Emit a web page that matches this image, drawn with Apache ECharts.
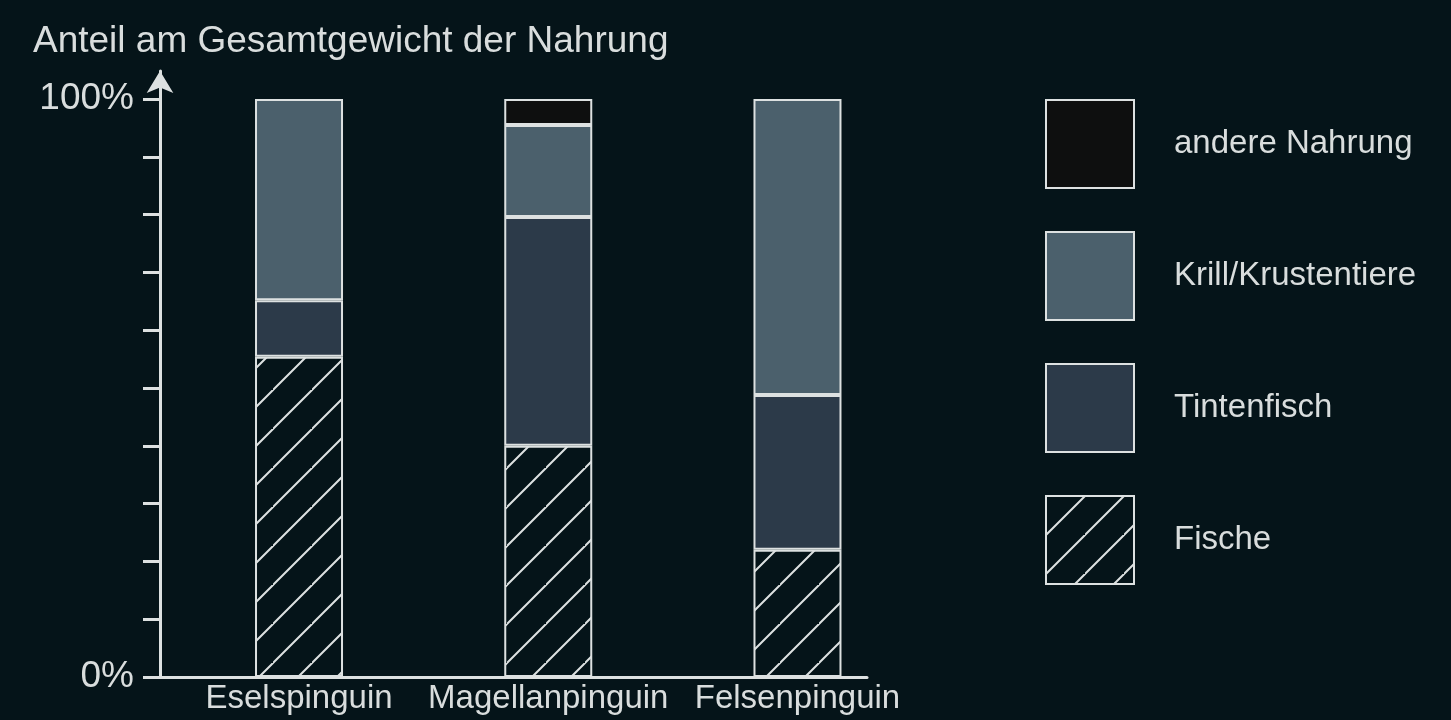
<!DOCTYPE html>
<html>
<head>
<meta charset="utf-8">
<script src="https://cdn.jsdelivr.net/npm/echarts@6/dist/echarts.min.js"></script>
<style>
html,body{margin:0;padding:0;background:#051419;}
#c{width:1451px;height:720px;}
</style>
</head>
<body>
<div id="c"></div>
<script>
const categories = ['Eselspinguin', 'Magellanpinguin', 'Felsenpinguin'];
const fische = [55.4, 40.0, 22.0];
const tintenfisch = [9.8, 39.6, 26.8];
const krill = [34.8, 15.9, 51.2];
const andere = [null, 4.5, null];
const yTicks = [0, 10, 20, 30, 40, 50, 60, 70, 80, 90, 100];
const yLabels = [0, 100];
const legendOrder = ['andere Nahrung', 'Krill/Krustentiere', 'Tintenfisch', 'Fische'];

const BG = '#051419';
const LINE = '#dde1e1';
const TXT = '#d9dddd';
const FONT = '"Liberation Sans", Arial, sans-serif';

// hatch pattern
const tile = document.createElement('canvas');
const S = 39;
tile.width = S; tile.height = S;
const g = tile.getContext('2d');
g.fillStyle = BG; g.fillRect(0, 0, S, S);
g.strokeStyle = LINE; g.lineWidth = 2;
g.beginPath();
g.moveTo(-2, S + 2); g.lineTo(S + 2, -2);
g.moveTo(-2 - S, S + 2); g.lineTo(2, -2);
g.moveTo(S - 2, 2 * S + 2); g.lineTo(2 * S + 2, S - 2);
g.stroke();

const chart = echarts.init(document.getElementById('c'));
const barStyle = (c) => ({ color: c, borderColor: LINE, borderWidth: 2 });
const base = { type: 'bar', stack: 'a', xAxisIndex: 1, yAxisIndex: 1, barWidth: 88, emphasis: { disabled: true } };

chart.setOption({
  backgroundColor: BG,
  animation: false,
  title: {
    text: 'Anteil am Gesamtgewicht der Nahrung',
    left: 28, top: 18, padding: 5,
    textStyle: { color: TXT, fontFamily: FONT, fontSize: 37, fontWeight: 'normal' }
  },
  legend: {
    orient: 'vertical',
    left: 1045, top: 99, padding: 0,
    itemWidth: 88, itemHeight: 88, itemGap: 42,
    icon: 'rect',
    data: legendOrder,
    selectedMode: false,
    textStyle: { color: TXT, fontFamily: FONT, fontSize: 33, padding: [0, 0, 0, 35] }
  },
  grid: [
    { left: 160, right: 584, top: 71, bottom: 43 },
    { left: 174.4, right: 528.9, top: 99, bottom: 43 }
  ],
  xAxis: [
    { type: 'value', gridIndex: 0, min: 0, max: 1, splitLine: { show: false }, axisTick: { show: false },
      axisLabel: { show: false }, axisLine: { show: true, lineStyle: { color: LINE, width: 3 } } },
    { type: 'category', gridIndex: 1, data: categories, axisLine: { show: false }, axisTick: { show: false },
      axisLabel: { color: TXT, fontFamily: FONT, fontSize: 33, margin: 5, interval: 0, hideOverlap: false } }
  ],
  yAxis: [
    { type: 'value', gridIndex: 0, min: 0, max: 104.84, splitLine: { show: false },
      axisLine: { show: true, symbol: ['none', 'arrow'], symbolSize: [20, 22], lineStyle: { color: LINE, width: 3 } },
      axisTick: { show: true, length: 17, customValues: yTicks, lineStyle: { color: LINE, width: 3 } },
      axisLabel: { show: true, customValues: yLabels, formatter: '{value}%', color: TXT, fontFamily: FONT, fontSize: 37, margin: 26 } },
    { type: 'value', gridIndex: 1, min: 0, max: 100, show: false, splitLine: { show: false } }
  ],
  series: [
    Object.assign({ name: 'Fische', data: fische, itemStyle: barStyle({ image: tile, repeat: 'repeat' }) }, base),
    Object.assign({ name: 'Tintenfisch', data: tintenfisch, itemStyle: barStyle('#2c3a49') }, base),
    Object.assign({ name: 'Krill/Krustentiere', data: krill, itemStyle: barStyle('#4b606c') }, base),
    Object.assign({ name: 'andere Nahrung', data: andere, itemStyle: barStyle('#0e0f0f') }, base)
  ]
});
</script>
</body>
</html>
